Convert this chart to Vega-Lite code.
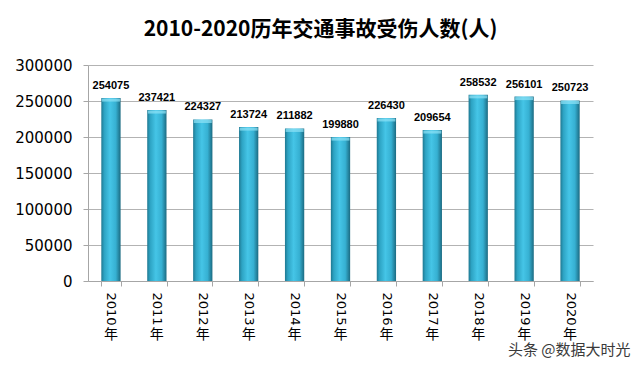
{
  "$schema": "https://vega.github.io/schema/vega-lite/v6.json",
  "autosize": "none",
  "width": 505,
  "height": 216,
  "padding": {"left": 88, "top": 65, "right": 47, "bottom": 86},
  "background": "white",
  "title": {
    "text": "2010-2020历年交通事故受伤人数(人)",
    "font": "Noto Sans CJK SC",
    "fontSize": 21,
    "fontWeight": "bold",
    "color": "#000000",
    "anchor": "middle",
    "dx": -20,
    "offset": 18
  },
  "config": {
    "view": {"stroke": null},
    "axis": {"domainColor": "#a6a6a6", "tickColor": "#a6a6a6", "gridColor": "#b3b3b3"},
    "axisY": {
      "title": null,
      "values": [0, 50000, 100000, 150000, 200000, 250000, 300000],
      "format": "d",
      "tickSize": 5,
      "labelPadding": 11,
      "labelOverlap": false,
      "labelFont": "DejaVu Sans",
      "labelFontSize": 15,
      "labelColor": "#000000",
      "grid": true
    }
  },
  "data": {
    "values": [
      {"year": "2010年", "value": 254075},
      {"year": "2011年", "value": 237421},
      {"year": "2012年", "value": 224327},
      {"year": "2013年", "value": 213724},
      {"year": "2014年", "value": 211882},
      {"year": "2015年", "value": 199880},
      {"year": "2016年", "value": 226430},
      {"year": "2017年", "value": 209654},
      {"year": "2018年", "value": 258532},
      {"year": "2019年", "value": 256101},
      {"year": "2020年", "value": 250723}
    ]
  },
  "layer": [
    {
      "mark": {
        "type": "bar",
        "fill": {
          "gradient": "linear",
          "x1": 0, "x2": 1, "y1": 0, "y2": 0,
          "stops": [
            {"offset": 0, "color": "#1f7891"},
            {"offset": 0.15, "color": "#2da3c3"},
            {"offset": 0.45, "color": "#45c5e7"},
            {"offset": 0.75, "color": "#36b0d2"},
            {"offset": 1, "color": "#1b6a81"}
          ]
        }
      },
      "encoding": {
        "x": {
          "field": "year", "type": "nominal", "sort": null,
          "scale": {"paddingInner": 0.58, "paddingOuter": 0.29},
          "axis": {
            "orient": "bottom",
            "title": null,
            "tickBand": "extent",
            "tickSize": 5,
            "labelAngle": 90,
            "labelAlign": "left",
            "labelBaseline": "middle",
            "labelPadding": 6,
            "labelFont": "DejaVu Sans",
            "labelFontSize": 13,
            "labelColor": "#000000",
            "labelExpr": "replace(datum.label, '年', '')"
          }
        },
        "y": {
          "field": "value", "type": "quantitative",
          "scale": {"domain": [0, 300000], "nice": false}
        }
      }
    },
    {
      "mark": {"type": "tick", "color": "#8fe3f6", "thickness": 3, "size": 18, "yOffset": 2},
      "encoding": {
        "x": {"field": "year", "type": "nominal", "sort": null, "axis": null},
        "y": {"field": "value", "type": "quantitative"}
      }
    },
    {
      "mark": {"type": "text", "baseline": "bottom", "dy": -7, "font": "Liberation Sans", "fontSize": 11, "fontWeight": "bold", "color": "#000000"},
      "encoding": {
        "x": {
          "field": "year", "type": "nominal", "sort": null,
          "axis": {
            "orient": "bottom",
            "domain": false,
            "ticks": false,
            "tickSize": 0,
            "grid": false,
            "labelAngle": 0,
            "labelAlign": "center",
            "labelBaseline": "top",
            "labelPadding": 46,
            "labelFont": "Noto Sans CJK SC",
            "labelFontSize": 14,
            "labelColor": "#000000",
            "labelExpr": "'年'",
            "title": "头条 @数据大时光",
            "titleX": 542,
            "titleY": 68,
            "titleAlign": "right",
            "titleBaseline": "middle",
            "titleFont": "Noto Sans CJK SC",
            "titleFontSize": 15,
            "titleFontWeight": "normal",
            "titleColor": "#3a3a3a"
          }
        },
        "y": {"field": "value", "type": "quantitative"},
        "text": {"field": "value", "type": "quantitative", "format": "d"}
      }
    }
  ],
  "resolve": {"axis": {"x": "independent"}}
}
